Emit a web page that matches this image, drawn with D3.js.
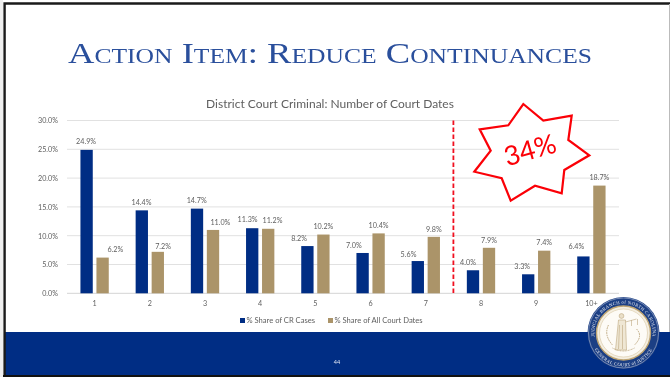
<!DOCTYPE html>
<html><head><meta charset="utf-8">
<script src="https://cdn.jsdelivr.net/npm/d3@7"></script>
<style>html,body{margin:0;padding:0;background:#fff;overflow:hidden}svg{display:block;filter:blur(.35px)}</style>
</head><body><svg id="c" width="670" height="377"></svg>
<script>
const categories = ["1","2","3","4","5","6","7","8","9","10+"];
const seriesNames = ["% Share of CR Cases","% Share of All Court Dates"];
const crCases = [24.9,14.4,14.7,11.3,8.2,7.0,5.6,4.0,3.3,6.4];
const courtDates = [6.2,7.2,11.0,11.2,10.2,10.4,9.8,7.9,7.4,18.7];
const yTicks = [0,5,10,15,20,25,30];
const colors = ["#002d84","#ab9469"];
// hand-placed data-label nudges seen in the source
const crLabelDx = [-.5,-.3,-.3,-4.6,-8.3,-8.8,-9.3,-5,-6,-7];
const crLabelDy = [-8.3,-7.9,-8.2,-8.8,-7.7,-7.6,-6.7,-7.9,-8,-10];
const cdLabelDx = [12.7,5.3,7.4,4.3,0,0,0,0,0,0];
const cdLabelDy = [-8.2,-5,-7.5,-8.4,-8,-8,-7.5,-7.4,-8.3,-8];

const svg = d3.select("#c");
const gray = "#5f5f5f";
const pct = v => v.toFixed(1)+"%";
const T = (sel,size,fam) => sel.attr("font-size",size).attr("font-family",fam||"Lato");

svg.append("rect").attr("width",670).attr("height",377).attr("fill","#fff");

const x = d3.scaleBand().domain(categories).range([67,619]).paddingInner(.487).paddingOuter(.2435);
const xs = d3.scaleBand().domain(seriesNames).range([0,x.bandwidth()]).paddingInner(.23);
const y = d3.scaleLinear().domain([0,30]).range([293.3,120.5]);

// gridlines
svg.append("g").selectAll("line").data(yTicks).join("line")
  .attr("x1",67).attr("x2",619).attr("y1",d=>y(d)).attr("y2",d=>y(d))
  .attr("stroke",d=>d===0?"#d4d4d4":"#e1e1e1").attr("stroke-width",1);

// y axis
const yAxis = svg.append("g").attr("transform","translate(67,0)")
  .call(d3.axisLeft(y).tickValues(yTicks).tickSize(0).tickPadding(9).tickFormat(d=>d.toFixed(1)+"%"));
yAxis.select(".domain").remove();
T(yAxis,7.2); T(yAxis.selectAll("text").attr("fill",gray),7.2);

// x axis
const xAxis = svg.append("g").attr("transform","translate(0,293.3)")
  .call(d3.axisBottom(x).tickSize(0).tickPadding(8));
xAxis.select(".domain").remove();
T(xAxis,7.2); T(xAxis.selectAll("text").attr("fill",gray),7.2);

// bars + labels
[[crCases,crLabelDx,crLabelDy],[courtDates,cdLabelDx,cdLabelDy]].forEach(([vals,dx,dy],s)=>{
  const name = seriesNames[s];
  const g = svg.append("g");
  g.selectAll("rect").data(vals).join("rect")
    .attr("x",(d,i)=>x(categories[i])+xs(name)).attr("width",xs.bandwidth())
    .attr("y",d=>y(d)).attr("height",d=>y(0)-y(d)).attr("fill",colors[s]);
  T(g.selectAll("text").data(vals).join("text")
    .attr("x",(d,i)=>x(categories[i])+xs(name)+xs.bandwidth()/2+dx[i])
    .attr("y",(d,i)=>y(d)+dy[i]).attr("dy","0.35em")
    .attr("text-anchor","middle").attr("fill",gray).text(pct),7.2);
});

// chart title
T(svg.append("text").attr("x",330).attr("y",108).attr("text-anchor","middle")
  .attr("fill",gray).text("District Court Criminal: Number of Court Dates"),12);

// slide title
T(svg.append("text").attr("x",68).attr("y",63).attr("textLength",524).attr("lengthAdjust","spacingAndGlyphs")
  .attr("fill","#2a4f9c").style("font-variant","small-caps").text("Action Item: Reduce Continuances"),30,"Liberation Serif");

// divider between 7 and 8
const divX = (x("7")+x("8")+x.bandwidth())/2;
svg.append("line").attr("x1",divX).attr("x2",divX).attr("y1",y(30)).attr("y2",y(0))
  .attr("stroke","#f01020").attr("stroke-width",1.8).attr("stroke-dasharray","4.5,2.5");

// star callout
const starPts = [[523.3,104],[543.3,120.7],[571.7,115.7],[568.3,140],[589.3,155.3],[564.3,170],[561.7,193.3],[535,185.7],[510.7,200.7],[501.7,178.3],[474.3,171.7],[490.7,150.7],[479.7,129.3],[508.3,125.3]];
svg.append("polygon").attr("points",starPts.join(" ")).attr("fill","#fff").attr("stroke","#fb0007").attr("stroke-width",2.2);
T(svg.append("text").attr("transform","translate(530,150) rotate(-16)").attr("text-anchor","middle").attr("dy","0.35em")
  .attr("fill","#fb0007").text("34%"),27);

// legend
const legend = [[240,246.5],[328,334.5]];
seriesNames.forEach((n,i)=>{
  svg.append("rect").attr("x",legend[i][0]).attr("y",318).attr("width",5).attr("height",5).attr("fill",colors[i]);
  T(svg.append("text").attr("x",legend[i][1]).attr("y",320.5).attr("dy","0.35em").attr("fill",gray).text(n),7.6);
});

// footer band + frame
svg.append("rect").attr("x",4).attr("y",332).attr("width",666).attr("height",43).attr("fill","#002d84");
T(svg.append("text").attr("x",337).attr("y",362.5).attr("dy","0.35em").attr("text-anchor","middle").attr("fill","#dfe6f3").text("44"),5.5);
svg.append("path").attr("d","M4.6 375.5V3.5H670").attr("fill","none").attr("stroke","#1a1a1a").attr("stroke-width",2.4);
svg.append("path").attr("d","M3 376H670").attr("stroke","#111").attr("stroke-width",2);
svg.append("rect").attr("x",0).attr("y",0).attr("width",3).attr("height",377).attr("fill","#efefef");
svg.append("rect").attr("x",669).attr("y",4).attr("width",1).attr("height",328).attr("fill","#bbb");

// seal
const cx=623.5, cy=333;
const seal = svg.append("g");
seal.append("circle").attr("cx",cx).attr("cy",cy).attr("r",36).attr("fill","#1c3f84");
seal.append("circle").attr("cx",cx).attr("cy",cy).attr("r",35).attr("fill","none").attr("stroke","#cfd5e4").attr("stroke-width",.5);
seal.append("circle").attr("cx",cx).attr("cy",cy).attr("r",27).attr("fill","#f4eee0").attr("stroke","#bfa674").attr("stroke-width",1.4);
seal.append("circle").attr("cx",cx).attr("cy",cy).attr("r",24).attr("fill","#fdfbf6").attr("stroke","#d9c8a4").attr("stroke-width",.6);
const defs = svg.append("defs");
const rT=29.3, rB=33.4, a=Math.PI*0.2;
defs.append("path").attr("id","arcTop").attr("d",`M${cx-rT*Math.cos(a)} ${cy+rT*Math.sin(a)}A${rT} ${rT} 0 1 1 ${cx+rT*Math.cos(a)} ${cy+rT*Math.sin(a)}`);
defs.append("path").attr("id","arcBot").attr("d",`M${cx-rB} ${cy}A${rB} ${rB} 0 0 0 ${cx+rB} ${cy}`);
[["arcTop","JUDICIAL BRANCH of NORTH CAROLINA",4.7],["arcBot","GENERAL COURT of JUSTICE",4.7]].forEach(([id,t,fs])=>{
  T(seal.append("text").attr("fill","#e6e9f1").attr("letter-spacing",.3)
    .append("textPath").attr("href","#"+id).attr("startOffset","50%").attr("text-anchor","middle").text(t),fs,"Liberation Serif");
});
// figure of justice
const fig = seal.append("g").attr("fill","none").attr("stroke","#bda77f").attr("stroke-width",.6);
fig.append("circle").attr("cx",cx-2).attr("cy",cy-17).attr("r",2.4).attr("fill","#e9dfc8");
fig.append("path").attr("d",`M${cx-5} ${cy-13}L${cx-8} ${cy+17}H${cx+3}L${cx+2} ${cy-13}Z`).attr("fill","#efe7d4");
fig.append("path").attr("d",`M${cx-4} ${cy-8}L${cx-5} ${cy+16}M${cx-1} ${cy-8}V${cy+16}M${cx+2} ${cy-11}L${cx+13} ${cy-14}M${cx+8} ${cy-13}V${cy-7}M${cx+14} ${cy-14}V${cy-8}`);
fig.append("path").attr("d",`M${cx-15} ${cy-8}Q${cx-20} ${cy+2} ${cx-11} ${cy+12}M${cx+13} ${cy-4}Q${cx+20} ${cy+3} ${cx+11} ${cy+12}`).attr("stroke-dasharray","1.6,.9").attr("stroke-width",1);
fig.append("path").attr("d",`M${cx-11} ${cy+15}Q${cx} ${cy+21} ${cx+11} ${cy+15}`).attr("stroke-width",.9).attr("stroke-dasharray","1,.6");
</script></body></html>
